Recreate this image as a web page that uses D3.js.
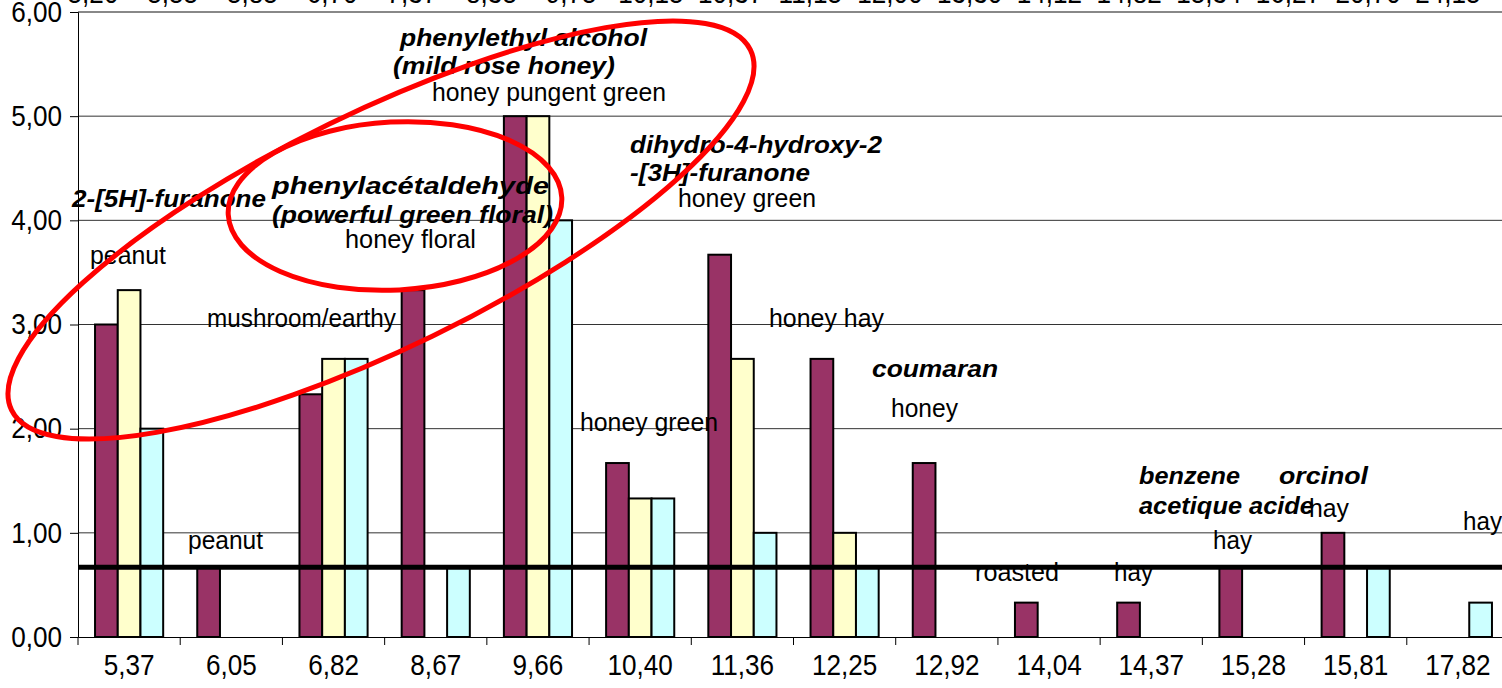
<!DOCTYPE html>
<html>
<head>
<meta charset="utf-8">
<script src="https://cdn.jsdelivr.net/npm/d3@7"></script>
<style>
  body { margin: 0; background: #fff; }
  svg { display: block; }
</style>
</head>
<body>
<div id="chart"></div>
<script>
// retention times (bottom axis) and the three panels
var categories = ["5,37", "6,05", "6,82", "8,67", "9,66", "10,40", "11,36", "12,25", "12,92", "14,04", "14,37", "15,28", "15,81", "17,82"];
var seriesA = [3.00, 0.67, 2.33, 3.33, 5.00, 1.67, 3.67, 2.67, 1.67, 0.33, 0.33, 0.67, 1.00, 0];
var seriesB = [3.33, 0, 2.67, 0, 5.00, 1.33, 2.67, 1.00, 0, 0, 0, 0, 0, 0];
var seriesC = [2.00, 0, 2.67, 0.67, 4.00, 1.33, 1.00, 0.67, 0, 0, 0, 0, 0.67, 0.33];
var threshold = 0.67;
var yTicks = [0, 1, 2, 3, 4, 5, 6];
// secondary category labels along the top (mostly cut off)
var topLabels = ["5,20", "5,55", "5,85", "6,70", "7,37", "8,35", "9,75", "10,15", "10,37", "11,15", "12,00", "13,30", "14,12", "14,82", "15,34", "16,27", "20,70", "24,15"];

// odour notes written on the chart
var noteText = ["phenylethyl alcohol", "(mild rose honey)", "honey pungent green",
  "dihydro-4-hydroxy-2", "-[3H]-furanone", "honey green",
  "2-[5H]-furanone", "phenylacétaldehyde", "(powerful green floral)", "honey floral",
  "peanut", "mushroom/earthy", "honey hay", "coumaran", "honey", "honey green",
  "benzene", "acetique acide", "orcinol", "hay", "hay", "hay", "peanut", "roasted", "hay"];

var seriesColors = ["#993366", "#FFFFCC", "#CCFFFF"];
var W = 1502, H = 688;
var margin = { left: 78, right: -7, top: 12, bottom: 51 };
var font = "'Liberation Sans', Arial, sans-serif";

// layout for the notes: [left x, baseline y, width, bold italic?]
var noteBoxes = [
  [400, 46, 247, 1], [393, 74, 222, 1], [432, 101, 234, 0],
  [630, 153, 252, 1], [630, 181, 180, 1], [678, 207, 138, 0],
  [72, 207, 194, 1], [272, 194, 277, 1], [272, 223, 281, 1], [345, 248, 131, 0],
  [90, 264, 76, 0], [207, 327, 189, 0], [769, 327, 115, 0], [872, 377, 126, 1], [891, 417, 67, 0], [580, 431, 138, 0],
  [1139, 484, 101, 1], [1139, 514, 175, 1], [1279, 484, 89, 1], [1309, 517, 40, 0], [1463, 530, 39, 0], [1213, 549, 39, 0],
  [188, 549, 75, 0], [975, 581, 84, 0], [1114, 581, 39, 0]
];

var svg = d3.select("#chart").append("svg")
  .attr("width", W)
  .attr("height", H);

var x0 = d3.scaleBand()
  .domain(categories)
  .range([margin.left, W - margin.right]);

var x1 = d3.scaleBand()
  .domain([0, 1, 2])
  .range([0, x0.bandwidth()])
  .paddingOuter(0.75);

var y = d3.scaleLinear()
  .domain([0, 6])
  .range([H - margin.bottom, margin.top]);

var xTop = d3.scalePoint()
  .domain(topLabels)
  .range([93, 93 + 79.7 * (topLabels.length - 1)]);

// squeeze axis labels a little, like the original condensed font
function condense(sel) {
  sel.each(function() {
    var l = this.getComputedTextLength();
    d3.select(this).attr("textLength", l * 0.9).attr("lengthAdjust", "spacingAndGlyphs");
  });
}

// gridlines
svg.append("g")
  .selectAll("line")
  .data(yTicks.slice(1, 6))
  .enter()
  .append("line")
  .attr("x1", margin.left)
  .attr("x2", W)
  .attr("y1", d => y(d))
  .attr("y2", d => y(d))
  .attr("stroke", "#333")
  .attr("stroke-width", 1);

// top border / secondary axis
svg.append("line")
  .attr("x1", margin.left)
  .attr("x2", W)
  .attr("y1", y(6))
  .attr("y2", y(6))
  .attr("stroke", "#888")
  .attr("stroke-width", 2);

svg.append("g")
  .selectAll("text")
  .data(topLabels)
  .enter()
  .append("text")
  .attr("x", d => xTop(d))
  .attr("y", 3)
  .attr("text-anchor", "middle")
  .attr("font-family", font)
  .attr("font-size", "29px")
  .attr("fill", "#000")
  .text(d => d)
  .call(condense);

// y axis
var leftAxis = d3.axisLeft(y)
  .tickValues(yTicks)
  .tickSize(8)
  .tickPadding(8)
  .tickFormat(d => d3.format(".2f")(d).replace(".", ","));

var gy = svg.append("g")
  .attr("transform", `translate(${margin.left},0)`)
  .call(leftAxis);
gy.selectAll("text").attr("font-family", font).attr("font-size", "29px").attr("fill", "#000").call(condense);
gy.selectAll("line, path").attr("stroke", "#000");

// bottom axis, labels centred and ticks on the category boundaries
var bottomAxis = d3.axisBottom(x0).tickSize(0).tickPadding(17);
var gx = svg.append("g")
  .attr("transform", `translate(0,${y(0)})`)
  .call(bottomAxis);
gx.select(".domain").attr("stroke", "#000");
gx.selectAll("text").attr("font-family", font).attr("font-size", "29px").attr("fill", "#000").call(condense);

svg.append("g")
  .selectAll("line")
  .data(categories)
  .enter()
  .append("line")
  .attr("x1", d => x0(d))
  .attr("x2", d => x0(d))
  .attr("y1", y(0))
  .attr("y2", y(0) + 8)
  .attr("stroke", "#000");

// bars
var series = [seriesA, seriesB, seriesC];
series.forEach(function(vals, s) {
  svg.append("g")
    .selectAll("rect")
    .data(vals.map((v, i) => ({ cat: categories[i], v: v })).filter(d => d.v > 0))
    .enter()
    .append("rect")
    .attr("x", d => x0(d.cat) + x1(s))
    .attr("y", d => y(d.v))
    .attr("width", x1.bandwidth())
    .attr("height", d => y(0) - y(d.v))
    .attr("fill", seriesColors[s])
    .attr("stroke", "#000")
    .attr("stroke-width", 2);
});

// notes
svg.append("g")
  .selectAll("text")
  .data(noteText)
  .enter()
  .append("text")
  .attr("x", (d, i) => noteBoxes[i][0])
  .attr("y", (d, i) => noteBoxes[i][1])
  .attr("textLength", (d, i) => noteBoxes[i][2])
  .attr("lengthAdjust", "spacingAndGlyphs")
  .attr("font-family", font)
  .attr("font-size", (d, i) => noteBoxes[i][3] ? "23px" : "26px")
  .attr("font-weight", (d, i) => noteBoxes[i][3] ? 700 : 400)
  .attr("font-style", (d, i) => noteBoxes[i][3] ? "italic" : "normal")
  .attr("fill", "#000")
  .text(d => d);

// threshold line
svg.append("line")
  .attr("x1", margin.left)
  .attr("x2", W)
  .attr("y1", y(threshold))
  .attr("y2", y(threshold))
  .attr("stroke", "#000")
  .attr("stroke-width", 5);

// red hand-drawn ellipses
svg.append("ellipse")
  .attr("cx", 381).attr("cy", 230).attr("rx", 411).attr("ry", 118)
  .attr("transform", "rotate(-26 381 230)")
  .attr("fill", "none")
  .attr("stroke", "#FF0000")
  .attr("stroke-width", 5);

svg.append("ellipse")
  .attr("cx", 395).attr("cy", 206).attr("rx", 167).attr("ry", 84)
  .attr("transform", "rotate(-3 395 206)")
  .attr("fill", "none")
  .attr("stroke", "#FF0000")
  .attr("stroke-width", 5);
</script>
</body>
</html>
